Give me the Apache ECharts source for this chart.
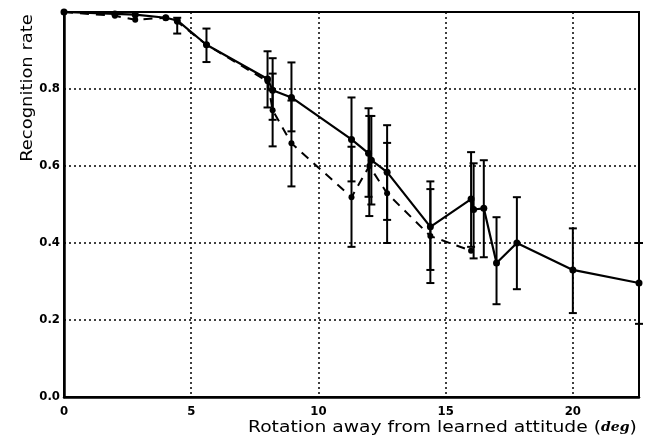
<!DOCTYPE html>
<html><head><meta charset="utf-8">
<script src="https://cdn.jsdelivr.net/npm/echarts@6/dist/echarts.min.js"></script>
<style>html,body{margin:0;padding:0;background:#fff}#c{width:648px;height:439px}</style>
</head><body><div id="c"></div>
<script>
// Solid series
const solidX  = [0, 2.0, 2.8, 4.0, 4.45, 5.6, 8.0, 8.2, 8.94, 11.3, 11.97, 12.08, 12.7, 14.4, 16.0, 16.1, 16.5, 17.0, 17.8, 20.0, 22.6];
const solidY  = [1.0, 0.995, 0.993, 0.985, 0.978, 0.915, 0.826, 0.797, 0.778, 0.669, 0.633, 0.615, 0.584, 0.442, 0.514, 0.487, 0.49, 0.348, 0.40, 0.33, 0.296];
const solidLo = [null, null, null, null, 0.944, 0.87, 0.752, 0.72, 0.69, 0.56, 0.52, 0.50, 0.46, 0.33, 0.39, 0.36, 0.363, 0.241, 0.28, 0.218, 0.19];
const solidHi = [null, null, null, null, 0.985, 0.957, 0.898, 0.88, 0.869, 0.778, 0.75, 0.73, 0.706, 0.56, 0.636, 0.607, 0.615, 0.467, 0.519, 0.438, 0.40];
// Dashed series
const dashX  = [0, 2.0, 2.8, 4.0, 4.45, 5.6, 8.0, 8.2, 8.94, 11.3, 12.0, 12.7, 14.4, 16.0];
const dashY  = [1.0, 0.99, 0.98, 0.985, 0.975, 0.915, 0.82, 0.745, 0.659, 0.519, 0.60, 0.529, 0.418, 0.38];
const dashLo = [null, null, null, null, null, null, null, 0.651, 0.547, 0.39, 0.47, 0.40, 0.296, null];
const dashHi = [null, null, null, null, null, null, null, 0.84, 0.77, 0.65, 0.73, 0.66, 0.54, null];
// Tick labels
const xTicks = [0, 5, 10, 15, 20];
const yTicks = [0.0, 0.2, 0.4, 0.6, 0.8];

const solidData = solidX.map((x, i) => [x, solidY[i]]);
const dashData = dashX.map((x, i) => [x, dashY[i]]);
const solidErr = solidX.map((x, i) => [x, solidLo[i], solidHi[i]]).filter(d => d[1] !== null);
const dashErr = dashX.map((x, i) => [x, dashLo[i], dashHi[i]]).filter(d => d[1] !== null);

function errRender(params, api) {
  const x = api.value(0), lo = api.value(1), hi = api.value(2);
  const a = api.coord([x, hi]), b = api.coord([x, lo]);
  const w = 4;
  const st = {stroke: '#000', lineWidth: 2};
  return {type: 'group', children: [
    {type: 'line', shape: {x1: a[0], y1: a[1], x2: b[0], y2: b[1]}, style: st},
    {type: 'line', shape: {x1: a[0]-w, y1: a[1], x2: a[0]+w, y2: a[1]}, style: st},
    {type: 'line', shape: {x1: b[0]-w, y1: b[1], x2: b[0]+w, y2: b[1]}, style: st}
  ]};
}

const chart = echarts.init(document.getElementById('c'), null, {renderer: 'canvas'});
const labelFont = {color: '#000', fontFamily: '"DejaVu Sans Condensed", "DejaVu Sans"', fontWeight: 'bold', fontSize: 13};
chart.setOption({
  animation: false,
  backgroundColor: '#fff',
  grid: {left: 64, right: 9, top: 12, bottom: 42, show: true, borderColor: '#000', borderWidth: 2},
  xAxis: {
    type: 'value', min: 0, max: 22.6, interval: 5,
    axisLine: {lineStyle: {color: '#000', width: 2.5}},
    axisTick: {show: false},
    axisLabel: Object.assign({margin: 8, showMaxLabel: false,
      formatter: v => xTicks.includes(v) ? String(v) : ''}, labelFont),
    splitLine: {show: true, lineStyle: {color: '#000', type: [2, 3], width: 1.5}}
  },
  yAxis: {
    type: 'value', min: 0, max: 1.0, interval: 0.2,
    axisLine: {lineStyle: {color: '#000', width: 2.5}},
    axisTick: {show: false},
    axisLabel: Object.assign({margin: 4,
      formatter: v => yTicks.some(t => Math.abs(t - v) < 1e-9) ? v.toFixed(1) : ''}, labelFont),
    splitLine: {show: true, lineStyle: {color: '#000', type: [2, 3], width: 1.5}}
  },
  graphic: [
    {type: 'text', x: 248, y: 428, scaleX: 1.17, style: {
      text: '{a|Rotation away from learned attitude (}{b|deg}{a|)}',
      verticalAlign: 'middle',
      rich: {
        a: {fontFamily: 'DejaVu Sans', fontSize: 16, fill: '#000', fontWeight: 'normal'},
        b: {fontFamily: 'DejaVu Serif', fontSize: 12, fontStyle: 'italic', fontWeight: 'bold', fill: '#000'}
      }}},
    {type: 'text', x: 28, y: 88, rotation: Math.PI / 2, scaleX: 1.12, style: {
      text: 'Recognition rate', fontFamily: 'DejaVu Sans', fontSize: 16, fill: '#000',
      align: 'center', verticalAlign: 'middle'}}
  ],
  series: [
    {type: 'custom', renderItem: errRender, data: solidErr, z: 3},
    {type: 'custom', renderItem: errRender, data: dashErr, z: 3},
    {type: 'line', data: solidData, symbol: 'circle', symbolSize: 7,
      itemStyle: {color: '#000'}, lineStyle: {color: '#000', width: 2.2}, z: 4},
    {type: 'line', data: dashData, symbol: 'circle', symbolSize: 6,
      itemStyle: {color: '#000'}, lineStyle: {color: '#000', width: 2, type: [9, 7]}, z: 4}
  ]
});
</script></body></html>
